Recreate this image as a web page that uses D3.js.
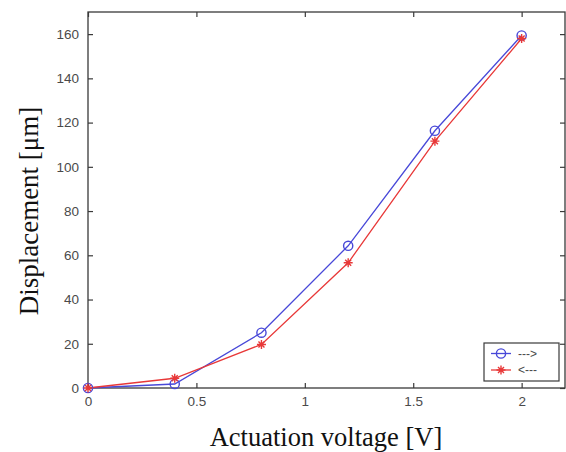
<!DOCTYPE html>
<html><head><meta charset="utf-8">
<script src="https://cdn.jsdelivr.net/npm/d3@7"></script>
<style>body{margin:0;background:#fff}svg{display:block}</style>
</head><body>
<script>
const voltages = [0, 0.4, 0.8, 1.2, 1.6, 2.0];
const forward = [0, 1.8, 25, 64.3, 116.3, 159.4];
const backward = [0, 4.4, 19.7, 56.6, 111.6, 158];
const seriesNames = ["--->", "<---"];
const xTicks = [0, 0.5, 1, 1.5, 2];
const yTicks = [0, 20, 40, 60, 80, 100, 120, 140, 160];

const W = 566, H = 452;
const m = {left: 88, top: 12, right: 1, bottom: 64};
const svg = d3.select("body").append("svg").attr("width", W).attr("height", H);
const x = d3.scaleLinear().domain([0, 2.2]).range([m.left, W - m.right]);
const y = d3.scaleLinear().domain([0, 170]).range([H - m.bottom, m.top]);
const axisColor = "#3a3a3a", labelColor = "#4a4a4a";
const tickFont = "Liberation Sans, Arial, sans-serif";

// box
svg.append("rect").attr("x", x(0)).attr("y", y(170)).attr("width", x(2.2) - x(0)).attr("height", y(0) - y(170))
  .attr("fill", "#fff").attr("stroke", axisColor).attr("stroke-width", 1.3);

const gB = svg.append("g").attr("transform", `translate(0,${y(0)})`)
  .call(d3.axisBottom(x).tickValues(xTicks).tickSize(-5).tickPadding(8).tickFormat(d3.format("")));
const gT = svg.append("g").attr("transform", `translate(0,${y(170)})`)
  .call(d3.axisTop(x).tickValues(xTicks).tickSize(-5).tickFormat(""));
const gL = svg.append("g").attr("transform", `translate(${x(0)},0)`)
  .call(d3.axisLeft(y).tickValues(yTicks).tickSize(-5).tickPadding(9));
const gR = svg.append("g").attr("transform", `translate(${x(2.2)},0)`)
  .call(d3.axisRight(y).tickValues(yTicks).tickSize(-5).tickFormat(""));
[gB, gT, gL, gR].forEach(g => {
  g.select(".domain").remove();
  g.selectAll(".tick line").attr("stroke", axisColor).attr("stroke-width", 1.2);
  g.selectAll(".tick text").attr("fill", labelColor).attr("font-family", tickFont).attr("font-size", 13.5);
});
gB.selectAll(".tick text").attr("dy", "0.71em");

const colors = ["#4848d8", "#e83838"];
const data = [forward, backward];
const line = d3.line().x((d, i) => x(voltages[i])).y(d => y(d));
data.forEach((s, k) => {
  svg.append("path").datum(s).attr("d", line).attr("fill", "none")
    .attr("stroke", colors[k]).attr("stroke-width", 1.3);
});
function marker(g, k, cx, cy) {
  if (k === 0) {
    g.append("circle").attr("cx", cx).attr("cy", cy).attr("r", 4.6)
      .attr("fill", "none").attr("stroke", colors[0]).attr("stroke-width", 1.4);
  } else {
    const s = 4.5;
    g.append("path").attr("d", `M${cx - s},${cy}H${cx + s}M${cx},${cy - s}V${cy + s}M${cx-3},${cy-3}L${cx+3},${cy+3}M${cx-3},${cy+3}L${cx+3},${cy-3}`)
      .attr("stroke", colors[1]).attr("stroke-width", 1.4);
  }
}
data.forEach((s, k) => {
  const g = svg.append("g");
  s.forEach((v, i) => marker(g, k, x(voltages[i]), y(v)));
});

// legend
const lg = svg.append("g");
lg.append("rect").attr("x", 484).attr("y", 343).attr("width", 75).attr("height", 38)
  .attr("fill", "#fff").attr("stroke", axisColor).attr("stroke-width", 1.2);
seriesNames.forEach((n, k) => {
  const ly = 353.5 + k * 16.5;
  lg.append("line").attr("x1", 491).attr("x2", 511).attr("y1", ly).attr("y2", ly)
    .attr("stroke", colors[k]).attr("stroke-width", 1.3);
  marker(lg, k, 501, ly);
  lg.append("text").attr("x", 518).attr("y", ly).attr("dy", "0.35em")
    .attr("font-family", tickFont).attr("font-size", 12).attr("fill", labelColor).text(n);
});

// axis titles
svg.append("text").attr("x", 326).attr("y", 446).attr("text-anchor", "middle")
  .attr("font-family", "Liberation Serif, Times New Roman, serif").attr("font-size", 26.5)
  .attr("fill", "#111").text("Actuation voltage [V]");
svg.append("text").attr("transform", "translate(38,211) rotate(-90)").attr("text-anchor", "middle")
  .attr("font-family", "Liberation Serif, Times New Roman, serif").attr("font-size", 27)
  .attr("fill", "#111").text("Displacement [μm]");
</script>
</body></html>
